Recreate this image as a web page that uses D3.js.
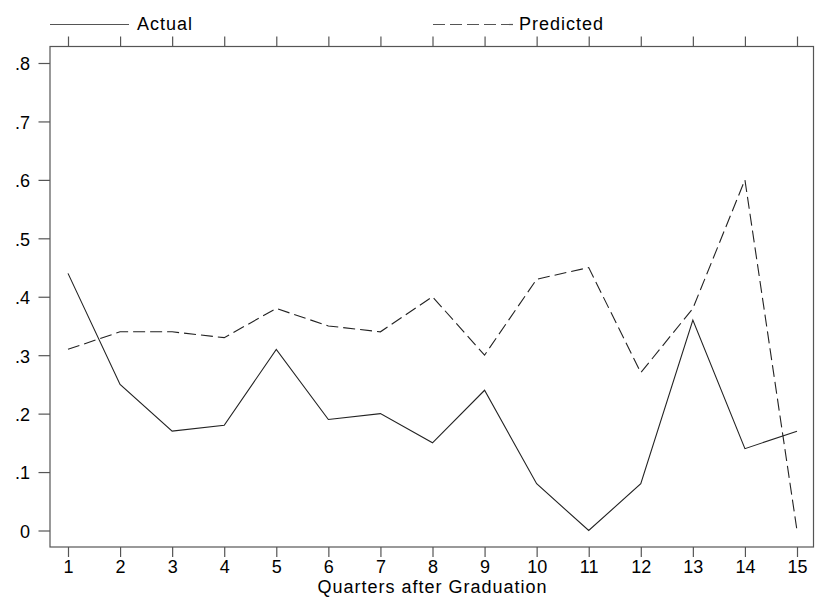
<!DOCTYPE html>
<html>
<head>
<meta charset="utf-8">
<script src="https://cdn.jsdelivr.net/npm/d3@7"></script>
<style>
  html, body { margin: 0; padding: 0; background: #fff; }
  svg { display: block; font-family: "Liberation Sans", Arial, Helvetica, sans-serif; }
</style>
</head>
<body>
<svg id="chart" width="815" height="600"></svg>
<script>
// Quarters after graduation and the two series plotted against them
const quarters = [1, 2, 3, 4, 5, 6, 7, 8, 9, 10, 11, 12, 13, 14, 15];
const actual    = [0.44, 0.25, 0.17, 0.18, 0.31, 0.19, 0.20, 0.15, 0.24, 0.08, 0.00, 0.08, 0.36, 0.14, 0.17];
const predicted = [0.31, 0.34, 0.34, 0.33, 0.38, 0.35, 0.34, 0.40, 0.30, 0.43, 0.45, 0.27, 0.38, 0.60, 0.00];
const yTicks = [0, 0.1, 0.2, 0.3, 0.4, 0.5, 0.6, 0.7, 0.8];
const yTickLabels = ["0", ".1", ".2", ".3", ".4", ".5", ".6", ".7", ".8"];
const xTitle = "Quarters after Graduation";
const seriesNames = ["Actual", "Predicted"];

const svg = d3.select("#chart");

// Plot frame
const frame = { left: 50, right: 813.5, top: 46.5, bottom: 547 };

const x = d3.scaleLinear().domain([1, 15]).range([68, 797]);
const y = d3.scaleLinear().domain([0, 0.8]).range([530.5, 63]);

const axisColor = "#555";

svg.append("rect")
  .attr("x", frame.left).attr("y", frame.top)
  .attr("width", frame.right - frame.left)
  .attr("height", frame.bottom - frame.top)
  .attr("fill", "none")
  .attr("stroke", axisColor)
  .attr("stroke-width", 1.2);

function styleAxis(g) {
  g.select(".domain").remove();
  g.selectAll(".tick line").attr("stroke", axisColor).attr("stroke-width", 1.2);
  g.selectAll(".tick text")
    .attr("fill", "#000")
    .style("font-size", "18px")
    .style("font-family", "'Liberation Sans', Arial, sans-serif");
}

// Bottom axis with labels
svg.append("g")
  .attr("transform", `translate(0,${frame.bottom})`)
  .call(d3.axisBottom(x).tickValues(quarters).tickFormat(d3.format("d")).tickSize(10).tickPadding(3))
  .call(styleAxis);

// Top axis: ticks only
svg.append("g")
  .attr("transform", `translate(0,${frame.top})`)
  .call(d3.axisTop(x).tickValues(quarters).tickFormat("").tickSize(10))
  .call(styleAxis);

// Left axis
svg.append("g")
  .attr("transform", `translate(${frame.left},0)`)
  .call(d3.axisLeft(y).tickValues(yTicks).tickFormat((d, i) => yTickLabels[i]).tickSize(11.5).tickPadding(8.5))
  .call(styleAxis)
  .call(g => g.selectAll(".tick text").attr("dy", "0.38em"));

// Axis title
svg.append("text")
  .attr("x", (x(1) + x(15)) / 2)
  .attr("y", 593)
  .attr("text-anchor", "middle")
  .style("font-size", "18px")
  .style("letter-spacing", "1px")
  .attr("fill", "#000")
  .text(xTitle);

// Series lines
const line = d3.line().x((d, i) => x(quarters[i])).y(d => y(d));
const lineColor = "#222";

svg.append("path")
  .datum(actual)
  .attr("d", line)
  .attr("fill", "none")
  .attr("stroke", lineColor)
  .attr("stroke-width", 1.1);

svg.append("path")
  .datum(predicted)
  .attr("d", line)
  .attr("fill", "none")
  .attr("stroke", lineColor)
  .attr("stroke-width", 1.1)
  .attr("stroke-dasharray", "12,5");

// Legend
const legendItems = [
  { name: seriesNames[0], x0: 50, x1: 129, tx: 137, dash: null },
  { name: seriesNames[1], x0: 433, x1: 513, tx: 519, dash: "12,5" }
];
const lg = svg.append("g");
legendItems.forEach(it => {
  lg.append("line")
    .attr("x1", it.x0).attr("x2", it.x1)
    .attr("y1", 24.5).attr("y2", 24.5)
    .attr("stroke", axisColor)
    .attr("stroke-width", 1.2)
    .attr("stroke-dasharray", it.dash);
  lg.append("text")
    .attr("x", it.tx).attr("y", 29.5)
    .style("font-size", "18px")
    .style("letter-spacing", "1px")
    .attr("fill", "#000")
    .text(it.name);
});
</script>
</body>
</html>
